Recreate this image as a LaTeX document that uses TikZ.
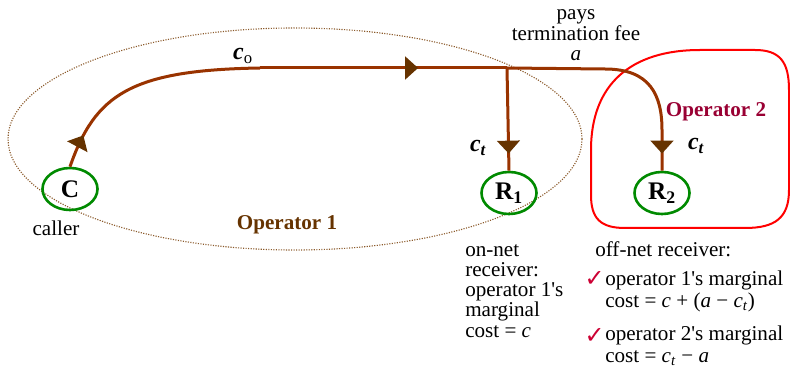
\documentclass[tikz,border=0pt]{standalone}
\usepackage{fontspec}
\setmainfont{Liberation Serif}
\newfontfamily\symfont{DejaVu Sans}
\usetikzlibrary{shapes.geometric, arrows.meta, decorations.markings}
\definecolor{CallBrown}{HTML}{993300}
\definecolor{TipBrown}{HTML}{663300}
\definecolor{NodeGreen}{HTML}{008A00}
\definecolor{OpRed}{HTML}{FF0000}
\definecolor{OpTwoText}{HTML}{990033}
\definecolor{TickRed}{HTML}{CC0033}
\definecolor{RimBrown}{HTML}{8B5A2B}
\tikzset{
    % Subscriber ellipses
    userbox/.style={
        ellipse,
        draw=NodeGreen,
        line width=0.065cm,
        minimum width=1.375cm,
        minimum height=1.05cm,
        inner sep=0pt,
        font=\fontsize{18}{20}\selectfont\bfseries
    },
    % Call route
    callline/.style={
        draw=CallBrown,
        line width=0.075cm
    },
    tipat/.style={
        postaction={decorate},
        decoration={markings, mark=at position #1 with {\arrow{Triangle[length=0.32cm, width=0.58cm, line width=0pt, color=TipBrown, fill=TipBrown]}}}
    },
    % Text styles
    note/.style={
        inner sep=0pt,
        align=left,
        font=\fontsize{15}{14.4}\selectfont
    },
    costlabel/.style={
        inner sep=0pt,
        font=\fontsize{17}{18}\selectfont\bfseries\itshape
    },
    oplabel/.style={
        inner sep=0pt,
        font=\fontsize{15}{16}\selectfont\bfseries
    },
    tick/.style={
        inner sep=0pt,
        TickRed,
        font=\symfont\fontsize{17}{17}\selectfont
    }
}
\begin{document}
\begin{tikzpicture}[x=0.025cm, y=-0.025cm]
    \useasboundingbox (0,0) rectangle (790,367);

    % Operator areas
    \draw[RimBrown, densely dotted, line width=0.028cm] (295,139) ellipse [x radius=287, y radius=111];
    \draw[OpRed, line width=0.05cm] (700,50) -- (755,50) .. controls (780,50) and (789,62) .. (789,90)
        -- (789,190) .. controls (789,218) and (775,228) .. (745,228) -- (625,228)
        .. controls (600,228) and (591,218) .. (591,195) -- (591,150)
        .. controls (591,85) and (630,50) .. (700,50) -- cycle;

    % Subscribers
    \node[userbox] (C) at (70,189) {C};
    \node[userbox] (R1) at (509,193) {R\textsubscript{1}};
    \node[userbox] (R2) at (662,193) {R\textsubscript{2}};

    % Route points
    \coordinate (bend) at (260,68);
    \coordinate (split) at (507,68);
    \coordinate (turn) at (605,69);

    % Call route
    \draw[callline, tipat=0.85cm] (C.north) .. controls (95,95) and (130,70) .. (bend);
    \draw[callline, tipat=3.95cm] (bend) -- (split);
    \draw[callline, tipat=-0.43cm] (split) -- (R1.north);
    \draw[callline, tipat=-0.43cm] (split) -- (turn) .. controls (650,69) and (662,95) .. (662,130) -- (R2.north);

    % Cost labels
    \node[costlabel, anchor=base] (co) at (243,60) {c\textsubscript{\upshape\mdseries o}};
    \node[costlabel, anchor=base] (ct1) at (478,152) {c\textsubscript{t}};
    \node[costlabel, anchor=base] (ct2) at (696,150) {c\textsubscript{t}};
    \node[note, align=center, anchor=base, font=\fontsize{15}{14.9}\selectfont] (fee) at (576,61) {pays\\termination fee\\\textit{a}};

    % Operator names
    \node[oplabel, TipBrown, anchor=base] (op1) at (287,230) {Operator 1};
    \node[oplabel, OpTwoText, anchor=base] (op2) at (716,117) {Operator 2};

    % Notes
    \node[note, anchor=base] (caller) at (56,236) {caller};
    \node[note, anchor=base west] (onnet) at (465,337) {on-net\\receiver:\\operator 1\textquotesingle s\\marginal\\cost = \textit{c}};
    \node[note, anchor=base west] (offnet) at (595,257) {off-net receiver:};
    \node[note, anchor=base west, font=\fontsize{15}{15.3}\selectfont] (item1) at (605,307) {operator 1\textquotesingle s marginal\\cost = \textit{c} + (\textit{a} − \textit{c}\textsubscript{\textit{t}})};
    \node[note, anchor=base west, font=\fontsize{15}{15.3}\selectfont] (item2) at (605,362) {operator 2\textquotesingle s marginal\\cost = \textit{c}\textsubscript{\textit{t}} − \textit{a}};
    \node[tick, anchor=base east] (tick1) at (605,287) {✓};
    \node[tick, anchor=base east] (tick2) at (605,343) {✓};
\end{tikzpicture}
\end{document}
